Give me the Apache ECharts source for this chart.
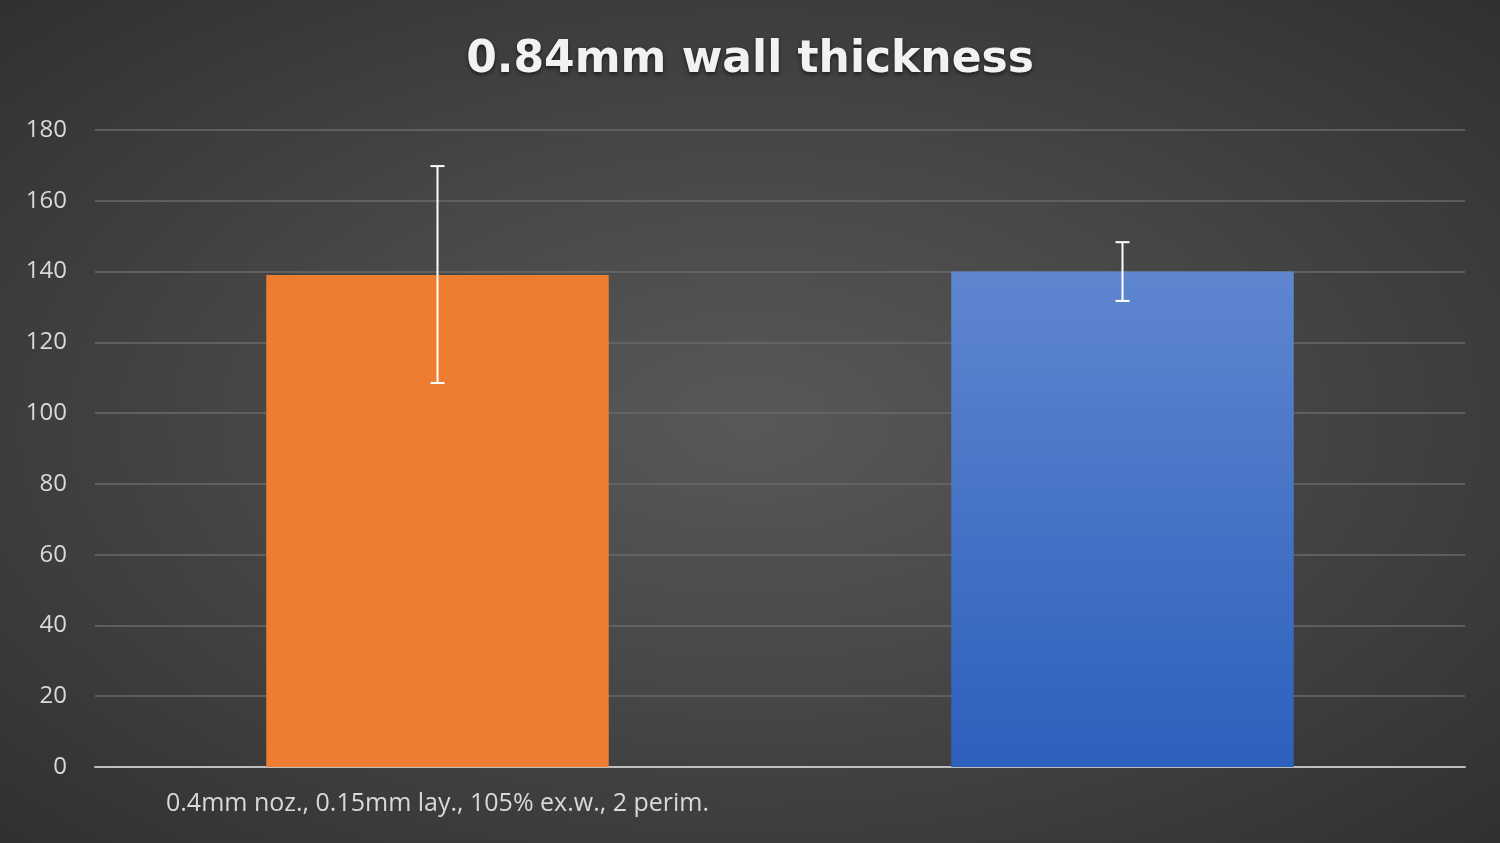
<!DOCTYPE html>
<html><head><meta charset="utf-8">
<script src="https://cdn.jsdelivr.net/npm/echarts@6/dist/echarts.min.js"></script>
<style>html,body{margin:0;padding:0;width:1500px;height:843px;background:radial-gradient(ellipse at center,#585858 0%,#474747 45%,#303030 100%);}#c{width:1500px;height:843px;}</style>
</head><body><div id="c"></div>
<script>
const categories = ["0.4mm noz., 0.15mm lay., 105% ex.w., 2 perim.", "0.8mm noz., 0.15mm lay., 105% ex.w., 1 perim."];
const values = [139, 140];
const errLow = [108.5, 131.7];
const errHigh = [169.8, 148.3];
const yTicks = [0, 180, 20];
const chart = echarts.init(document.getElementById('c'), null, {renderer:'canvas'});
chart.setOption({
  backgroundColor: 'transparent',
  title: {text: '0.84mm wall thickness', left: 'center', top: 34,
    textStyle: {color: '#f2f2f2', fontSize: 44, fontWeight: 'bold', fontFamily: 'DejaVu Sans',
      textShadowColor:'rgba(0,0,0,0.6)', textShadowBlur:4, textShadowOffsetY:2}},
  grid: {left: 95, right: 35, top: 130, bottom: 76},
  xAxis: {type: 'category', data: categories,
    axisLine: {lineStyle: {color: '#bfbfbf', width: 2}}, axisTick: {show: false},
    axisLabel: {color: '#d9d9d9', fontSize: 25, fontFamily: 'Open Sans', margin: 24}},
  yAxis: {type: 'value', min: yTicks[0], max: yTicks[1], interval: yTicks[2],
    axisLine: {show: false}, axisTick: {show: false},
    splitLine: {lineStyle: {color: '#6a6a6a', width: 1.5}},
    axisLabel: {color: '#d9d9d9', fontSize: 24, fontFamily: 'Open Sans', margin: 28}},
  series: [
    {type: 'bar', barWidth: '50%', data: [
      {value: values[0], itemStyle: {color: '#ed7d31'}},
      {value: values[1], itemStyle: {color: new echarts.graphic.LinearGradient(0,0,0,1,[{offset:0,color:'#5f86cf'},{offset:1,color:'#2d5fbd'}])}}
    ]},
    {type: 'custom', data: categories.map((c,i)=>[i, errLow[i], errHigh[i]]),
      renderItem: function(params, api){
        const lo = api.coord([api.value(0), api.value(1)]);
        const hi = api.coord([api.value(0), api.value(2)]);
        const w = 7, st = {stroke: '#ffffff', lineWidth: 2};
        return {type: 'group', children: [
          {type:'line', shape:{x1:lo[0],y1:lo[1],x2:hi[0],y2:hi[1]}, style: st},
          {type:'line', shape:{x1:lo[0]-w,y1:lo[1],x2:lo[0]+w,y2:lo[1]}, style: st},
          {type:'line', shape:{x1:hi[0]-w,y1:hi[1],x2:hi[0]+w,y2:hi[1]}, style: st}
        ]};
      }, z: 10}
  ]
});
</script></body></html>
